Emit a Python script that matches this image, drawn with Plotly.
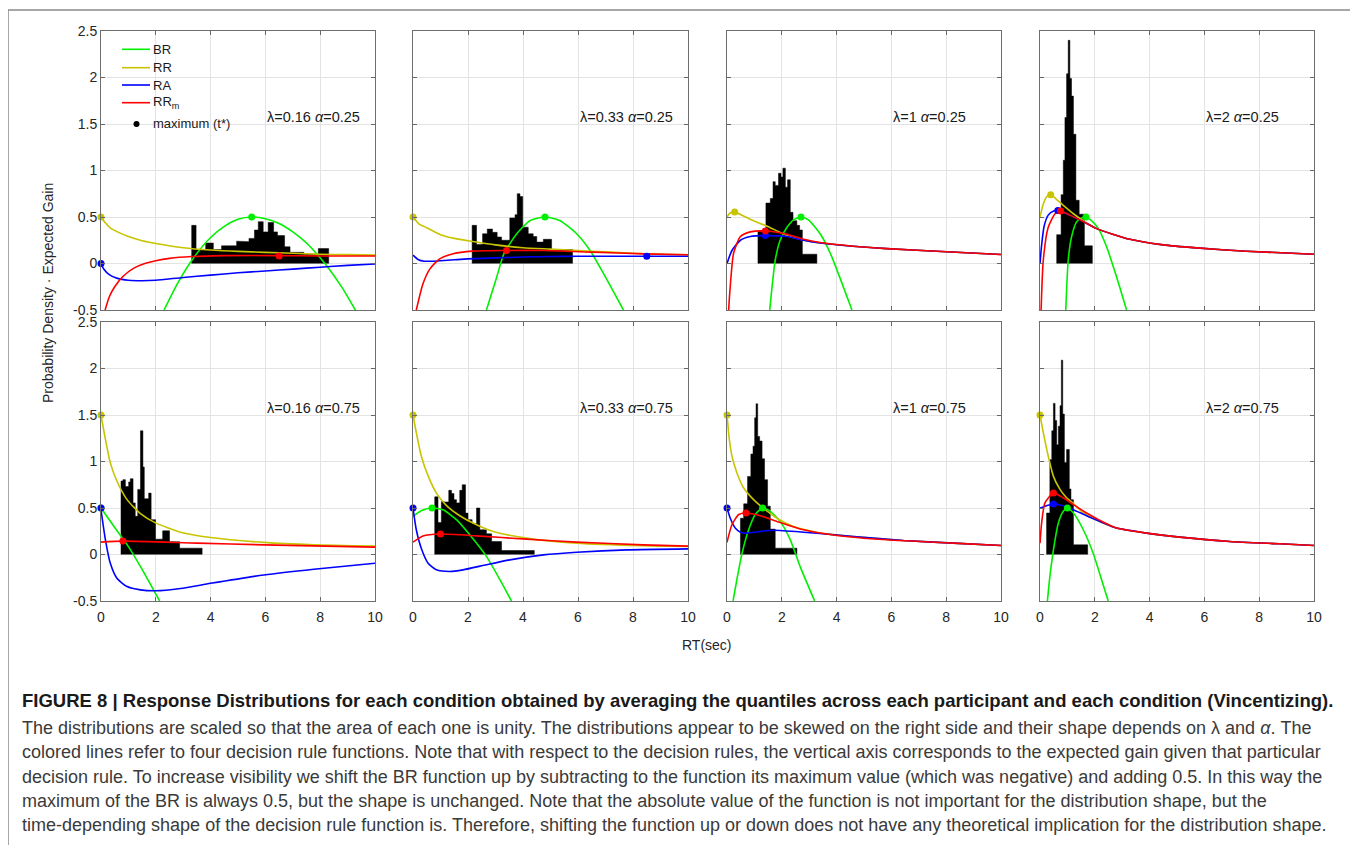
import plotly.graph_objects as go

W, H = 1358, 845

# ---------------- data ----------------
LABELS = ["λ=0.16 <i>α</i>=0.25", "λ=0.33 <i>α</i>=0.25", "λ=1 <i>α</i>=0.25", "λ=2 <i>α</i>=0.25",
          "λ=0.16 <i>α</i>=0.75", "λ=0.33 <i>α</i>=0.75", "λ=1 <i>α</i>=0.75", "λ=2 <i>α</i>=0.75"]

X_TICKS = [0, 2, 4, 6, 8, 10]
Y_TICKS = [-0.5, 0, 0.5, 1, 1.5, 2, 2.5]
Y_TICK_TEXT = ["-0.5", "0", "0.5", "1", "1.5", "2", "2.5"]

# histogram bin edges / heights per panel
P1_EDGES = [3.31, 3.47, 3.82, 4.10, 4.40, 4.70, 4.95, 5.20, 5.40, 5.60, 5.74, 5.92, 6.10, 6.30, 6.44, 6.70, 6.90, 7.40, 7.93, 8.31]
P1_HEIGHTS = [0.41, 0.15, 0.22, 0.15, 0.19, 0.19, 0.24, 0.235, 0.27, 0.36, 0.45, 0.34, 0.44, 0.34, 0.30, 0.18, 0.12, 0.10, 0.16]
P2_EDGES = [2.15, 2.31, 2.53, 2.70, 2.89, 3.06, 3.22, 3.52, 3.71, 3.79, 3.89, 3.99, 4.19, 4.37, 4.50, 4.74, 5.04, 5.80]
P2_HEIGHTS = [0.41, 0.205, 0.32, 0.37, 0.335, 0.285, 0.25, 0.49, 0.525, 0.75, 0.72, 0.39, 0.32, 0.29, 0.23, 0.26, 0.15]
P3_EDGES = [1.13, 1.42, 1.58, 1.68, 1.76, 1.88, 1.97, 2.04, 2.13, 2.21, 2.31, 2.41, 2.55, 2.65, 2.75, 3.28]
P3_HEIGHTS = [0.345, 0.65, 0.70, 0.88, 0.84, 0.97, 0.93, 1.025, 0.82, 0.90, 0.55, 0.46, 0.41, 0.36, 0.10]
P4_EDGES = [0.61, 0.77, 0.85, 0.91, 0.97, 1.03, 1.09, 1.15, 1.22, 1.31, 1.43, 1.62, 1.91]
P4_HEIGHTS = [0.31, 0.74, 1.11, 1.57, 2.04, 2.40, 1.99, 1.80, 1.39, 0.68, 0.53, 0.19]
P5_EDGES = [0.73, 0.80, 0.89, 1.01, 1.07, 1.17, 1.25, 1.34, 1.44, 1.53, 1.58, 1.68, 1.74, 1.83, 1.99, 2.25, 2.50, 2.87, 3.69]
P5_HEIGHTS = [0.79, 0.805, 0.73, 0.78, 0.815, 0.555, 0.41, 0.70, 1.33, 0.94, 0.60, 0.60, 0.66, 0.375, 0.165, 0.255, 0.137, 0.068]
P6_EDGES = [0.79, 0.91, 1.03, 1.13, 1.30, 1.40, 1.49, 1.58, 1.70, 1.79, 1.91, 2.00, 2.15, 2.31, 2.43, 2.67, 2.86, 3.22, 4.41]
P6_HEIGHTS = [0.62, 0.345, 0.57, 0.565, 0.69, 0.655, 0.59, 0.555, 0.69, 0.75, 0.445, 0.375, 0.33, 0.50, 0.266, 0.223, 0.14, 0.043]
P7_EDGES = [0.49, 0.61, 0.75, 0.87, 0.95, 1.01, 1.06, 1.12, 1.19, 1.28, 1.37, 1.48, 1.58, 1.76, 2.55]
P7_HEIGHTS = [0.39, 0.545, 0.84, 1.08, 1.165, 1.47, 1.62, 1.27, 1.22, 1.03, 0.805, 0.52, 0.273, 0.068]
P8_EDGES = [0.24, 0.36, 0.43, 0.49, 0.55, 0.61, 0.67, 0.73, 0.78, 0.83, 0.89, 0.97, 1.07, 1.13, 1.22, 1.74]
P8_HEIGHTS = [0.446, 1.02, 1.33, 1.625, 1.44, 1.18, 1.38, 1.60, 2.09, 1.51, 0.99, 1.13, 0.705, 0.59, 0.104]

# decision-rule curves: (t, value) pairs
P1_BR = [(2.3, -0.5), (2.8, -0.21), (3.4, 0.07), (4.0, 0.28), (4.5, 0.40), (5.0, 0.476), (5.5, 0.5), (6.0, 0.482), (6.5, 0.43), (7.0, 0.34), (7.5, 0.22), (8.17, 0.0), (8.8, -0.26), (9.3, -0.51)]
P1_RR = [(0, 0.5), (0.15, 0.44), (0.35, 0.38), (0.6, 0.34), (1.0, 0.29), (1.5, 0.245), (2.0, 0.215), (3.0, 0.17), (4.0, 0.145), (5.0, 0.13), (6.0, 0.12), (7.0, 0.11), (8.0, 0.10), (9.0, 0.095), (10, 0.09)]
P1_RA = [(0, 0.0), (0.1, -0.06), (0.3, -0.12), (0.6, -0.16), (1.0, -0.18), (1.5, -0.185), (2.0, -0.18), (3.0, -0.15), (4.0, -0.125), (5.0, -0.10), (6.0, -0.08), (7.0, -0.06), (8.0, -0.04), (9.0, -0.02), (10, -0.005)]
P1_RRM = [(0.15, -0.5), (0.3, -0.36), (0.5, -0.25), (0.8, -0.14), (1.2, -0.05), (1.6, 0.0), (2.0, 0.03), (2.5, 0.055), (3.3, 0.075), (4.5, 0.085), (6.5, 0.085), (8.0, 0.08), (10, 0.08)]
P1_MAX = {"BR": (5.5, 0.5), "RR": (0, 0.5), "RA": (0, 0.0), "RRM": (6.5, 0.08)}

P2_BR = [(2.67, -0.5), (3.04, -0.15), (3.3, 0.10), (3.77, 0.32), (4.25, 0.46), (4.8, 0.5), (5.35, 0.46), (5.95, 0.32), (6.44, 0.14), (6.93, -0.11), (7.65, -0.5)]
P2_RR = [(0, 0.5), (0.2, 0.43), (0.5, 0.385), (1.0, 0.31), (1.5, 0.27), (2.0, 0.245), (3.0, 0.2), (4.0, 0.17), (5.0, 0.155), (6.0, 0.14), (7.0, 0.125), (8.0, 0.11), (9.0, 0.10), (10, 0.094)]
P2_RA = [(0, 0.09), (0.2, 0.04), (0.4, 0.025), (0.7, 0.025), (1.0, 0.03), (1.5, 0.04), (2.0, 0.05), (3.0, 0.06), (4.0, 0.07), (5.0, 0.075), (6.0, 0.078), (7.0, 0.078), (8.5, 0.078), (10, 0.078)]
P2_RRM = [(0.12, -0.5), (0.36, -0.22), (0.61, -0.06), (0.97, 0.05), (1.46, 0.105), (2.15, 0.133), (3.4, 0.14), (4.74, 0.14), (6.56, 0.122), (8.4, 0.104), (10, 0.094)]
P2_MAX = {"BR": (4.8, 0.5), "RR": (0, 0.5), "RA": (8.5, 0.078), "RRM": (3.4, 0.14)}

P3_BR = [(1.56, -0.5), (1.76, 0.035), (1.94, 0.25), (2.19, 0.39), (2.43, 0.47), (2.7, 0.5), (2.97, 0.47), (3.4, 0.32), (3.77, 0.11), (4.13, -0.16), (4.56, -0.5)]
P3_RR = [(0, 0.5), (0.1, 0.54), (0.28, 0.555), (0.6, 0.51), (0.97, 0.46), (1.58, 0.385), (2.19, 0.30), (2.8, 0.25), (3.4, 0.22), (4.6, 0.186), (5.83, 0.16), (7.65, 0.132), (10, 0.096)]
P3_RA = [(0, 0.0), (0.18, 0.14), (0.49, 0.25), (0.85, 0.29), (1.4, 0.30), (2.19, 0.29), (2.8, 0.25), (3.4, 0.22), (4.6, 0.186), (5.83, 0.16), (7.65, 0.132), (10, 0.096)]
P3_RRM = [(0.06, -0.5), (0.1, -0.32), (0.24, 0.11), (0.49, 0.29), (0.85, 0.34), (1.4, 0.35), (2.19, 0.315), (2.8, 0.26), (3.4, 0.225), (4.6, 0.186), (5.83, 0.16), (7.65, 0.132), (10, 0.096)]
P3_MAX = {"BR": (2.7, 0.5), "RR": (0.28, 0.555), "RA": (1.4, 0.30), "RRM": (1.4, 0.35)}

P4_BR = [(0.94, -0.5), (1.03, 0.035), (1.15, 0.285), (1.34, 0.45), (1.52, 0.49), (1.68, 0.5), (1.88, 0.46), (2.13, 0.375), (2.43, 0.18), (2.79, -0.14), (3.16, -0.5)]
P4_RR = [(0, 0.5), (0.12, 0.64), (0.25, 0.72), (0.39, 0.74), (0.6, 0.69), (0.85, 0.625), (1.22, 0.535), (1.58, 0.46), (2.07, 0.375), (3.28, 0.26), (4.5, 0.20), (5.71, 0.168), (7.53, 0.132), (10, 0.10)]
P4_RA = [(0, 0.0), (0.06, 0.2), (0.15, 0.4), (0.3, 0.52), (0.5, 0.565), (0.65, 0.57), (1.09, 0.52), (1.58, 0.45), (2.07, 0.375), (3.28, 0.26), (4.5, 0.20), (5.71, 0.168), (7.53, 0.132), (10, 0.10)]
P4_RRM = [(0.04, -0.5), (0.12, 0.035), (0.3, 0.39), (0.55, 0.535), (0.75, 0.565), (1.09, 0.52), (1.58, 0.45), (2.07, 0.375), (3.28, 0.26), (4.5, 0.20), (5.71, 0.168), (7.53, 0.132), (10, 0.10)]
P4_MAX = {"BR": (1.68, 0.5), "RR": (0.39, 0.74), "RA": (0.65, 0.57), "RRM": (0.75, 0.565)}

P5_BR = [(0, 0.5), (0.5, 0.29), (1.0, 0.085), (1.5, -0.16), (2.14, -0.5)]
P5_RR = [(0, 1.5), (0.16, 1.24), (0.34, 0.985), (0.58, 0.79), (0.95, 0.59), (1.44, 0.44), (1.99, 0.34), (2.9, 0.24), (4.0, 0.183), (5.94, 0.13), (7.77, 0.104), (10, 0.09)]
P5_RA = [(0, 0.48), (0.16, 0.16), (0.34, -0.095), (0.58, -0.255), (0.95, -0.345), (1.44, -0.38), (1.99, -0.39), (2.9, -0.365), (4.0, -0.31), (5.94, -0.22), (7.77, -0.158), (10, -0.094)]
P5_RRM = [(0, 0.133), (0.8, 0.144), (3.5, 0.122), (5.94, 0.104), (10, 0.079)]
P5_MAX = {"BR": (0, 0.5), "RR": (0, 1.5), "RA": (0, 0.5), "RRM": (0.8, 0.144)}

P6_BR = [(0, 0.41), (0.3, 0.47), (0.69, 0.5), (1.09, 0.48), (1.58, 0.375), (2.07, 0.21), (2.67, -0.02), (3.16, -0.27), (3.58, -0.5)]
P6_RR = [(0, 1.5), (0.12, 1.31), (0.3, 1.06), (0.55, 0.845), (0.85, 0.66), (1.22, 0.525), (1.7, 0.417), (2.31, 0.32), (2.92, 0.248), (4.13, 0.176), (5.95, 0.122), (8.38, 0.094), (10, 0.086)]
P6_RA = [(0, 0.5), (0.12, 0.266), (0.3, 0.068), (0.55, -0.094), (0.85, -0.165), (1.34, -0.183), (1.82, -0.165), (2.67, -0.11), (3.52, -0.058), (4.74, -0.004), (5.95, 0.025), (7.78, 0.05), (10, 0.061)]
P6_RRM = [(0, 0.133), (0.36, 0.2), (1.0, 0.22), (2.31, 0.2), (4.13, 0.165), (5.95, 0.133), (8.38, 0.104), (10, 0.09)]
P6_MAX = {"BR": (0.69, 0.5), "RR": (0, 1.5), "RA": (0, 0.5), "RRM": (1.0, 0.22)}

P7_BR = [(0.22, -0.5), (0.36, -0.27), (0.55, 0.014), (0.79, 0.266), (1.03, 0.43), (1.3, 0.5), (1.58, 0.464), (1.94, 0.356), (2.31, 0.158), (2.67, -0.13), (3.2, -0.5)]
P7_RR = [(0, 1.5), (0.08, 1.25), (0.18, 1.06), (0.36, 0.88), (0.61, 0.715), (0.97, 0.59), (1.34, 0.495), (1.82, 0.39), (2.43, 0.30), (3.4, 0.23), (4.62, 0.194), (6.44, 0.15), (8.26, 0.122), (10, 0.097)]
P7_RA = [(0, 0.5), (0.12, 0.39), (0.3, 0.285), (0.49, 0.24), (0.73, 0.23), (1.22, 0.248), (1.7, 0.26), (2.8, 0.24), (4.01, 0.21), (4.62, 0.194), (6.44, 0.15), (8.26, 0.122), (10, 0.097)]
P7_RRM = [(0, 0.13), (0.18, 0.32), (0.43, 0.43), (0.69, 0.446), (1.22, 0.417), (1.82, 0.356), (2.8, 0.266), (4.01, 0.205), (5.83, 0.158), (8.26, 0.122), (10, 0.097)]
P7_MAX = {"BR": (1.3, 0.5), "RR": (0, 1.5), "RA": (0, 0.5), "RRM": (0.69, 0.446)}

P8_BR = [(0.27, -0.5), (0.36, -0.237), (0.51, 0.086), (0.67, 0.338), (0.85, 0.464), (1.0, 0.5), (1.22, 0.446), (1.58, 0.266), (1.94, 0.014), (2.25, -0.273), (2.49, -0.5)]
P8_RR = [(0, 1.5), (0.12, 1.31), (0.3, 1.06), (0.49, 0.84), (0.73, 0.70), (0.97, 0.61), (1.22, 0.547), (1.58, 0.446), (2.07, 0.367), (2.8, 0.284), (3.89, 0.23), (5.1, 0.187), (6.93, 0.14), (8.75, 0.115), (10, 0.097)]
P8_RA = [(0, 0.5), (0.24, 0.525), (0.49, 0.543), (0.85, 0.525), (1.22, 0.482), (1.7, 0.417), (2.19, 0.356), (2.8, 0.284), (3.89, 0.23), (5.1, 0.187), (6.93, 0.14), (8.75, 0.115), (10, 0.097)]
P8_RRM = [(0, 0.122), (0.06, 0.34), (0.18, 0.555), (0.49, 0.66), (0.85, 0.61), (1.22, 0.536), (1.7, 0.446), (2.19, 0.367), (2.8, 0.284), (3.89, 0.23), (5.1, 0.187), (6.93, 0.14), (8.75, 0.115), (10, 0.097)]
P8_MAX = {"BR": (1.0, 0.5), "RR": (0, 1.5), "RA": (0.49, 0.543), "RRM": (0.49, 0.66)}

CAPTION_TITLE = "FIGURE 8 | Response Distributions for each condition obtained by averaging the quantiles across each participant and each condition (Vincentizing)."
CAPTION_LINES = [
    "The distributions are scaled so that the area of each one is unity. The distributions appear to be skewed on the right side and their shape depends on λ and <i>α</i>. The",
    "colored lines refer to four decision rule functions. Note that with respect to the decision rules, the vertical axis corresponds to the expected gain given that particular",
    "decision rule. To increase visibility we shift the BR function up by subtracting to the function its maximum value (which was negative) and adding 0.5. In this way the",
    "maximum of the BR is always 0.5, but the shape is unchanged. Note that the absolute value of the function is not important for the distribution shape, but the",
    "time-depending shape of the decision rule function is. Therefore, shifting the function up or down does not have any theoretical implication for the distribution shape.",
]

# ---------------- styling / layout ----------------
COLORS = {"BR": "#00f000", "RR": "#c8c400", "RA": "#0000ff", "RRM": "#ff0000"}
NAMES = {"BR": "BR", "RR": "RR", "RA": "RA", "RRM": "RR<sub>m</sub>"}
FONT = "Liberation Sans, Arial, sans-serif"
CAP_FONT = "Liberation Sans, Arial, sans-serif"

COL_PX = [(101, 375), (413, 688), (727, 1001), (1040, 1314)]
ROW_PX = [(31, 310), (322, 601)]
OFF = 8  # the page body adds an 8 px margin around the figure

def px_x(p):
    return (p - OFF) / W

def px_y(p):
    return 1 - (p - OFF) / H

panels = [
    (P1_EDGES, P1_HEIGHTS, P1_BR, P1_RR, P1_RA, P1_RRM, P1_MAX),
    (P2_EDGES, P2_HEIGHTS, P2_BR, P2_RR, P2_RA, P2_RRM, P2_MAX),
    (P3_EDGES, P3_HEIGHTS, P3_BR, P3_RR, P3_RA, P3_RRM, P3_MAX),
    (P4_EDGES, P4_HEIGHTS, P4_BR, P4_RR, P4_RA, P4_RRM, P4_MAX),
    (P5_EDGES, P5_HEIGHTS, P5_BR, P5_RR, P5_RA, P5_RRM, P5_MAX),
    (P6_EDGES, P6_HEIGHTS, P6_BR, P6_RR, P6_RA, P6_RRM, P6_MAX),
    (P7_EDGES, P7_HEIGHTS, P7_BR, P7_RR, P7_RA, P7_RRM, P7_MAX),
    (P8_EDGES, P8_HEIGHTS, P8_BR, P8_RR, P8_RA, P8_RRM, P8_MAX),
]

fig = go.Figure()
layout = dict(
    width=W, height=H, margin=dict(l=0, r=0, t=0, b=0, pad=0, autoexpand=False),
    paper_bgcolor="white", plot_bgcolor="white", showlegend=False,
    font=dict(family=FONT, size=14, color="#262626"),
)
annotations = []
shapes = []

for i, (edges, heights, br, rr, ra, rrm, mx) in enumerate(panels):
    k = i + 1
    row, col = divmod(i, 4)
    xs = "x" if k == 1 else f"x{k}"
    ys = "y" if k == 1 else f"y{k}"
    # step outline of the histogram, filled
    hx, hy = [edges[0]], [0]
    for j, h in enumerate(heights):
        hx += [edges[j], edges[j + 1]]
        hy += [h, h]
    hx.append(edges[-1])
    hy.append(0)
    fig.add_trace(go.Scatter(x=hx, y=hy, mode="lines", fill="toself", fillcolor="black",
                             line=dict(color="black", width=0.5), xaxis=xs, yaxis=ys,
                             hoverinfo="skip"))
    for key, pts in (("BR", br), ("RR", rr), ("RA", ra), ("RRM", rrm)):
        fig.add_trace(go.Scatter(x=[p[0] for p in pts], y=[p[1] for p in pts], mode="lines",
                                 line=dict(color=COLORS[key], width=1.6, shape="spline", smoothing=0.6),
                                 xaxis=xs, yaxis=ys, name=NAMES[key]))
    for key in ("BR", "RR", "RA", "RRM"):
        t, v = mx[key]
        fig.add_trace(go.Scatter(x=[t], y=[v], mode="markers",
                                 marker=dict(color=COLORS[key], size=7),
                                 xaxis=xs, yaxis=ys, cliponaxis=False))
    x0, x1 = COL_PX[col]
    y0, y1 = ROW_PX[row]
    axname_x = "xaxis" if k == 1 else f"xaxis{k}"
    axname_y = "yaxis" if k == 1 else f"yaxis{k}"
    layout[axname_x] = dict(
        domain=[px_x(x0), px_x(x1)], anchor=ys, range=[0, 10], tickvals=X_TICKS,
        showticklabels=(row == 1), ticks="inside", ticklen=4, tickcolor="#666",
        ticklabelstandoff=3,
        showline=True, linecolor="#6e6e6e", linewidth=1, mirror="ticks",
        showgrid=True, gridcolor="#e3e3e3", gridwidth=1, zeroline=False, automargin=False,
        tickfont=dict(family=FONT, size=14, color="#262626"), fixedrange=True,
    )
    layout[axname_y] = dict(
        domain=[px_y(y1), px_y(y0)], anchor=xs, range=[-0.5, 2.5], tickvals=Y_TICKS,
        ticktext=Y_TICK_TEXT,
        showticklabels=(col == 0), ticks="inside", ticklen=4, tickcolor="#666",
        showline=True, linecolor="#6e6e6e", linewidth=1, mirror="ticks",
        showgrid=True, gridcolor="#e3e3e3", gridwidth=1, zeroline=False, automargin=False,
        tickfont=dict(family=FONT, size=14, color="#262626"), fixedrange=True,
    )
    annotations.append(dict(x=6.0, y=1.58, xref=xs, yref=ys, text=LABELS[i], showarrow=False,
                            xanchor="left", yanchor="middle",
                            font=dict(family=FONT, size=14.5, color="#1a1a1a")))

# legend drawn inside the first panel
leg_rows = [("BR", 49.3), ("RR", 67.7), ("RA", 85.0), ("RRM", 102.7)]
for key, yy in leg_rows:
    shapes.append(dict(type="line", xref="paper", yref="paper",
                       x0=px_x(122), x1=px_x(150), y0=px_y(yy), y1=px_y(yy),
                       line=dict(color=COLORS[key], width=1.6)))
    annotations.append(dict(x=px_x(151), y=px_y(yy), xref="paper", yref="paper", text=NAMES[key],
                            showarrow=False, xanchor="left", yanchor="middle",
                            font=dict(family=FONT, size=13, color="#1a1a1a")))
shapes.append(dict(type="circle", xref="paper", yref="paper",
                   x0=px_x(133.5), x1=px_x(139.5), y0=px_y(127), y1=px_y(121),
                   fillcolor="black", line=dict(color="black", width=0)))
annotations.append(dict(x=px_x(151), y=px_y(124), xref="paper", yref="paper", text="maximum (t*)",
                        showarrow=False, xanchor="left", yanchor="middle",
                        font=dict(family=FONT, size=13, color="#1a1a1a")))

# axis titles
annotations.append(dict(x=px_x(48), y=px_y(293), xref="paper", yref="paper",
                        text="Probability Density · Expected Gain", textangle=-90, showarrow=False,
                        xanchor="center", yanchor="middle",
                        font=dict(family=FONT, size=14, color="#262626")))
annotations.append(dict(x=px_x(707), y=px_y(645), xref="paper", yref="paper",
                        text="RT(sec)", showarrow=False, xanchor="center", yanchor="middle",
                        font=dict(family=FONT, size=14, color="#262626")))

# caption
annotations.append(dict(x=px_x(20), y=px_y(700), xref="paper", yref="paper",
                        text="<b>" + CAPTION_TITLE + "</b>", showarrow=False,
                        xanchor="left", yanchor="middle",
                        font=dict(family=CAP_FONT, size=18.5, color="#1a1a1a")))
for j, line in enumerate(CAPTION_LINES):
    annotations.append(dict(x=px_x(20), y=px_y(728 + j * 24.3), xref="paper", yref="paper",
                            text=line, showarrow=False, xanchor="left", yanchor="middle",
                            font=dict(family=CAP_FONT, size=18.0, color="#3a3a3a")))

# outer frame
shapes.append(dict(type="rect", xref="paper", yref="paper",
                   x0=px_x(8), x1=px_x(1355), y0=px_y(852), y1=px_y(10),
                   line=dict(color="#8a8a8a", width=1.5), fillcolor="rgba(0,0,0,0)", layer="below"))

layout["annotations"] = annotations
layout["shapes"] = shapes
fig.update_layout(**layout)
fig.write_html("out.html")
